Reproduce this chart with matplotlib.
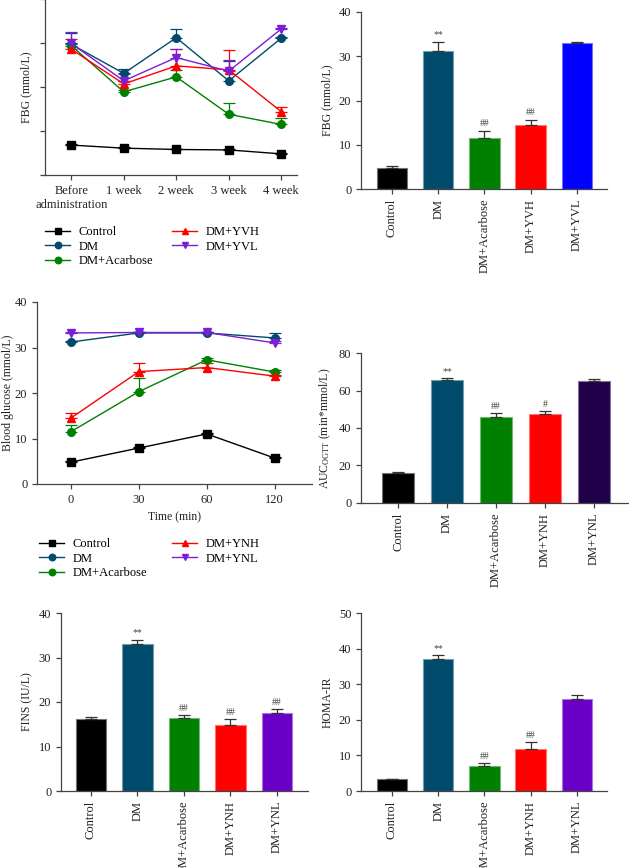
import numpy as np
import matplotlib
matplotlib.use("Agg")
import matplotlib.pyplot as plt
from matplotlib.colors import to_rgb

plt.rcParams["font.family"] = ["Liberation Serif", "DejaVu Serif"]
plt.rcParams["mathtext.default"] = "regular"
plt.rcParams["axes.spines.top"] = False
plt.rcParams["axes.spines.right"] = False

W, H = 629, 868

# ---- data ----
weeks = ["Before\nadministration", "1 week", "2 week", "3 week", "4 week"]
fbg_control = [6.8, 6.1, 5.8, 5.7, 4.8]
fbg_dm = [29.7, 23.1, 31.2, 21.4, 31.1]
fbg_acarbose = [29.4, 18.9, 22.3, 13.8, 11.5]
fbg_yvh = [28.6, 20.7, 24.8, 23.9, 14.4]
fbg_yvl = [29.9, 21.4, 26.7, 23.6, 33.2]
fbg_control_err = [0.3, 0.2, 0.2, 0.2, 0.2]
fbg_dm_err = [2.6, 1.1, 1.9, 4.5, 0.3]
fbg_acarbose_err = [0.5, 0.4, 1.6, 2.5, 1.5]
fbg_yvh_err = [2.2, 0.6, 3.9, 4.4, 1.1]
fbg_yvl_err = [2.6, 1.6, 2.0, 2.6, 0.3]

bar_groups_v = ["Control", "DM", "DM+Acarbose", "DM+YVH", "DM+YVL"]
fbg4_vals = [4.7, 31.2, 11.6, 14.5, 33.1]
fbg4_err = [0.4, 2.1, 1.6, 1.2, 0.1]
fbg4_marks = ["", "**", "##", "##", ""]

times = ["0", "30", "60", "120"]
ogtt_control = [4.8, 7.9, 11.0, 5.7]
ogtt_dm = [31.2, 33.2, 33.2, 32.1]
ogtt_acarbose = [11.5, 20.3, 27.3, 24.6]
ogtt_ynh = [14.5, 24.7, 25.6, 23.7]
ogtt_ynl = [33.2, 33.3, 33.3, 31.0]
ogtt_control_err = [0.2, 0.3, 0.3, 0.2]
ogtt_dm_err = [0.3, 0.2, 0.2, 1.1]
ogtt_acarbose_err = [1.5, 3.1, 0.4, 0.4]
ogtt_ynh_err = [1.1, 2.0, 1.0, 0.3]
ogtt_ynl_err = [0.2, 0.2, 0.2, 0.4]

bar_groups_n = ["Control", "DM", "DM+Acarbose", "DM+YNH", "DM+YNL"]
auc_vals = [16.0, 65.4, 46.0, 47.5, 65.1]
auc_err = [0.3, 1.2, 2.0, 1.8, 1.0]
auc_marks = ["", "**", "##", "#", ""]

fins_vals = [16.1, 33.0, 16.4, 14.8, 17.5]
fins_err = [0.6, 1.0, 0.75, 1.35, 0.9]
fins_marks = ["", "**", "##", "##", "##"]

homa_vals = [3.3, 37.1, 7.1, 11.9, 25.8]
homa_err = [0.2, 1.0, 0.85, 1.9, 1.1]
homa_marks = ["", "**", "##", "##", ""]

C_CTRL = "#000000"
C_DM = "#004b6b"
C_ACA = "#008000"
C_HIGH = "#ff0000"
C_LOW_LINE = "#7a1fd6"

fbg_bar_colors = [C_CTRL, C_DM, C_ACA, C_HIGH, "#0000ff"]
auc_bar_colors = [C_CTRL, C_DM, C_ACA, C_HIGH, "#21004a"]
fins_bar_colors = [C_CTRL, C_DM, C_ACA, C_HIGH, "#6a00c8"]

FS = 9
LFS = 8.5  # axis label size


def add_ax(fig, left, top, right, bottom):
    return fig.add_axes([left / W, 1 - bottom / H, (right - left) / W, (bottom - top) / H])


def style_ax(ax):
    for s in ("left", "bottom"):
        ax.spines[s].set_color("#444444")
        ax.spines[s].set_linewidth(0.9)
    ax.tick_params(axis="both", direction="out", length=3.5, width=0.9, color="#444444",
                   labelsize=FS, labelcolor="#222222")


def lighten(c, f=0.45):
    r, g, b = to_rgb(c)
    return (r + (1 - r) * f, g + (1 - g) * f, b + (1 - b) * f)


def bar_panel(ax, groups, vals, errs, marks, colors, ylim, yticks, ylabel, xlim):
    x = np.arange(len(groups))
    ax.bar(x, vals, width=0.66, color=colors, edgecolor=[lighten(c) for c in colors],
           linewidth=0.8, zorder=2)
    ax.errorbar(x, vals, yerr=[np.zeros(len(vals)), errs], fmt="none", ecolor="#333333",
                elinewidth=0.9, capsize=4, capthick=0.9, zorder=3)
    for xi, v, e, m in zip(x, vals, errs, marks):
        if m:
            ax.text(xi, v + e + ylim[1] * 0.012, m, ha="center", va="bottom",
                    fontsize=7, color="#444444")
    ax.set_xlim(*xlim)
    ax.set_ylim(*ylim)
    ax.set_yticks(yticks)
    ax.set_xticks(x)
    ax.set_xticklabels(groups, rotation=90)
    ax.set_ylabel(ylabel, fontsize=LFS, color="#222222")
    style_ax(ax)


def line_panel(ax, cats, series, ylim):
    x = np.arange(len(cats))
    handles = []
    for label, vals, errs, color, marker in series:
        ax.errorbar(x, vals, yerr=[np.zeros(len(vals)), errs], fmt="none", ecolor=color,
                    elinewidth=0.9, capsize=4, capthick=0.9, zorder=2)
        h, = ax.plot(x, vals, color=color, marker=marker, markersize=5.5, linewidth=1.0,
                     label=label, zorder=3)
        handles.append(h)
    ax.set_xticks(x)
    ax.set_xticklabels(cats, multialignment="center")
    ax.set_ylim(*ylim)
    style_ax(ax)
    return handles


fig = plt.figure(figsize=(W / 100, H / 100), dpi=100)

# A: FBG over weeks
axA = add_ax(fig, 45, -1, 297, 175)
hA = line_panel(axA, weeks, [
    ("Control", fbg_control, fbg_control_err, C_CTRL, "s"),
    ("DM", fbg_dm, fbg_dm_err, C_DM, "o"),
    ("DM+Acarbose", fbg_acarbose, fbg_acarbose_err, C_ACA, "o"),
    ("DM+YVH", fbg_yvh, fbg_yvh_err, C_HIGH, "^"),
    ("DM+YVL", fbg_yvl, fbg_yvl_err, C_LOW_LINE, "v"),
], (0, 40))
axA.set_xlim(-0.5, 4.3)
axA.set_yticks([0, 10, 20, 30, 40])
axA.set_yticklabels([])
axA.set_ylabel("FBG (mmol/L)", fontsize=LFS, color="#222222")
axA.yaxis.set_label_coords(-0.05, 0.5)
fig.legend(handles=hA, ncol=2, loc="upper left", bbox_to_anchor=(40 / W, 1 - 221 / H),
           frameon=False, fontsize=FS, handlelength=2.0, handletextpad=0.7,
           columnspacing=1.5, labelspacing=0.22, borderaxespad=0, markerscale=0.85)

# B: FBG bars
axB = add_ax(fig, 361, 12, 607, 189)
bar_panel(axB, bar_groups_v, fbg4_vals, fbg4_err, fbg4_marks, fbg_bar_colors,
          (0, 40), [0, 10, 20, 30, 40], "FBG (mmol/L)", (-0.67, 4.65))

# C: OGTT curves
axC = add_ax(fig, 37, 302, 312, 484)
hC = line_panel(axC, times, [
    ("Control", ogtt_control, ogtt_control_err, C_CTRL, "s"),
    ("DM", ogtt_dm, ogtt_dm_err, C_DM, "o"),
    ("DM+Acarbose", ogtt_acarbose, ogtt_acarbose_err, C_ACA, "o"),
    ("DM+YNH", ogtt_ynh, ogtt_ynh_err, C_HIGH, "^"),
    ("DM+YNL", ogtt_ynl, ogtt_ynl_err, C_LOW_LINE, "v"),
], (0, 40))
axC.set_xlim(-0.5, 3.55)
axC.set_yticks([0, 10, 20, 30, 40])
axC.set_ylabel("Blood glucose (mmol/L)", fontsize=LFS, color="#222222")
axC.yaxis.set_label_coords(-0.085, 0.5)
axC.set_xlabel("Time (min)", fontsize=LFS, color="#222222")
fig.legend(handles=hC, ncol=2, loc="upper left", bbox_to_anchor=(34 / W, 1 - 533 / H),
           frameon=False, fontsize=FS, handlelength=2.0, handletextpad=0.7,
           columnspacing=2.0, labelspacing=0.22, borderaxespad=0, markerscale=0.85)

# D: AUC
axD = add_ax(fig, 361, 353, 628, 503)
bar_panel(axD, bar_groups_n, auc_vals, auc_err, auc_marks, auc_bar_colors,
          (0, 80), [0, 20, 40, 60, 80], "AUC$_{OGTT}$ (min*mmol/L)", (-0.755, 4.69))

# E: FINS
axE = add_ax(fig, 61, 613, 308, 791)
bar_panel(axE, bar_groups_n, fins_vals, fins_err, fins_marks, fins_bar_colors,
          (0, 40), [0, 10, 20, 30, 40], "FINS (IU/L)", (-0.645, 4.67))

# F: HOMA-IR
axF = add_ax(fig, 361, 613, 607, 791)
bar_panel(axF, bar_groups_n, homa_vals, homa_err, homa_marks, fins_bar_colors,
          (0, 50), [0, 10, 20, 30, 40, 50], "HOMA-IR", (-0.67, 4.65))

fig.savefig("out.png", dpi=100)
